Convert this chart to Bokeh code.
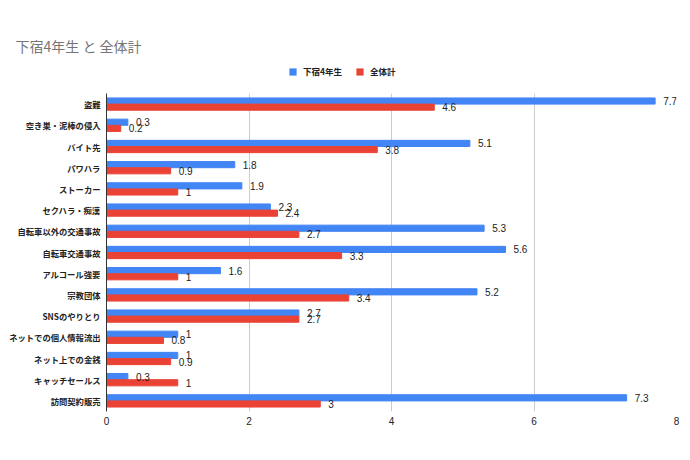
from bokeh.plotting import figure
from bokeh.layouts import column
from bokeh.models import (ColumnDataSource, FactorRange, Legend, LegendItem, LabelSet, Label,
                          Range1d, FixedTicker)
from bokeh.core.properties import value
from bokeh.transform import dodge
from bokeh.embed import file_html
from bokeh.resources import INLINE

title_text = "下宿4年生 と 全体計"
categories = ["盗難", "空き巣・泥棒の侵入", "バイト先", "パワハラ", "ストーカー", "セクハラ・痴漢",
              "自転車以外の交通事故", "自転車交通事故", "アルコール強要", "宗教団体", "SNSのやりとり",
              "ネットでの個人情報流出", "ネット上での金銭", "キャッチセールス", "訪問契約販売"]
geshuku = [7.7, 0.3, 5.1, 1.8, 1.9, 2.3, 5.3, 5.6, 1.6, 5.2, 2.7, 1, 1, 0.3, 7.3]
zentai = [4.6, 0.2, 3.8, 0.9, 1, 2.4, 2.7, 3.3, 1, 3.4, 2.7, 0.8, 0.9, 1, 3]
series_names = ["下宿4年生", "全体計"]
x_ticks = [0, 2, 4, 6, 8]

FONT = "Noto Sans CJK JP"
NUMFONT = "Liberation Sans"
BLUE = "#4285F4"
RED = "#EA4335"

# ---- header figure: title + legend ----
TOP_H = 93
head = figure(width=690, height=TOP_H, output_backend="svg", toolbar_location=None,
              x_range=Range1d(0, 690), y_range=Range1d(0, TOP_H),
              min_border_left=0, min_border_right=0, min_border_top=0, min_border_bottom=0)
head.frame_align = False
head.axis.visible = False
head.grid.grid_line_color = None
head.outline_line_color = None

head.add_layout(Label(x=15, y=TOP_H - 45, text=title_text, text_font=FONT, text_font_size="14px",
                      text_color="#757575", text_baseline="middle"))

# legend swatches: zero-size bars (only their colours are used by the legend)
ha = head.hbar(y=[0], right=[0], left=[0], height=0, fill_color=BLUE, line_color=BLUE, line_alpha=0)
hb = head.hbar(y=[0], right=[0], left=[0], height=0, fill_color=RED, line_color=RED, line_alpha=0)
legend = Legend(items=[LegendItem(label=series_names[0], renderers=[ha]),
                       LegendItem(label=series_names[1], renderers=[hb])],
                orientation="horizontal", location=(288, 16),
                label_text_font=FONT, label_text_font_size="8.5px", label_text_font_style="bold",
                label_text_color="#222222", label_height=10,
                glyph_width=9, glyph_height=9, spacing=13, label_standoff=6,
                border_line_color=None, background_fill_alpha=0, padding=2, margin=0)
head.add_layout(legend)

# ---- main chart ----
src = ColumnDataSource(dict(
    cat=categories, a=geshuku, b=zentai,
    alab=[("%g" % v) for v in geshuku], blab=[("%g" % v) for v in zentai],
))

p = figure(width=690, height=460 - TOP_H, output_backend="svg", toolbar_location=None,
           y_range=FactorRange(*list(reversed(categories)), range_padding=0),
           x_range=Range1d(0, 8),
           min_border_left=106, min_border_right=14, min_border_bottom=49, min_border_top=0)
p.frame_align = False

ra = p.hbar(y=dodge("cat", 0.145, range=p.y_range), right="a", left=0, height=0.29, color=BLUE, source=src)
rb = p.hbar(y=dodge("cat", -0.145, range=p.y_range), right="b", left=0, height=0.29, color=RED, source=src)

la = LabelSet(x="a", y=dodge("cat", 0.145, range=p.y_range), text="alab", source=src, x_offset=8,
              text_font=value(NUMFONT), text_font_size="10px", text_color="#222222",
              text_baseline="middle")
lb = LabelSet(x="b", y=dodge("cat", -0.145, range=p.y_range), text="blab", source=src, x_offset=8,
              text_font=value(NUMFONT), text_font_size="10px", text_color="#222222",
              text_baseline="middle")
p.add_layout(la)
p.add_layout(lb)

p.xaxis.ticker = FixedTicker(ticks=x_ticks)
p.xaxis.axis_line_color = None
p.xaxis.major_tick_line_color = None
p.xaxis.minor_tick_line_color = None
p.xaxis.major_tick_out = 0
p.xaxis.major_tick_in = 0
p.xaxis.major_label_text_font = NUMFONT
p.xaxis.major_label_text_font_size = "10px"
p.xaxis.major_label_text_color = "#222222"
p.xaxis.major_label_standoff = 5

p.yaxis.axis_line_color = "#333333"
p.yaxis.major_tick_line_color = None
p.yaxis.minor_tick_line_color = None
p.yaxis.major_tick_out = 0
p.yaxis.major_tick_in = 0
p.yaxis.major_label_text_font = FONT
p.yaxis.major_label_text_font_size = "8.3px"
p.yaxis.major_label_text_font_style = "bold"
p.yaxis.major_label_text_color = "#222222"
p.yaxis.major_label_standoff = 6

p.ygrid.grid_line_color = None
p.xgrid.grid_line_color = "#cccccc"
p.outline_line_color = None

layout = column(head, p, spacing=0)
open("out.html", "w").write(file_html(layout, INLINE))
